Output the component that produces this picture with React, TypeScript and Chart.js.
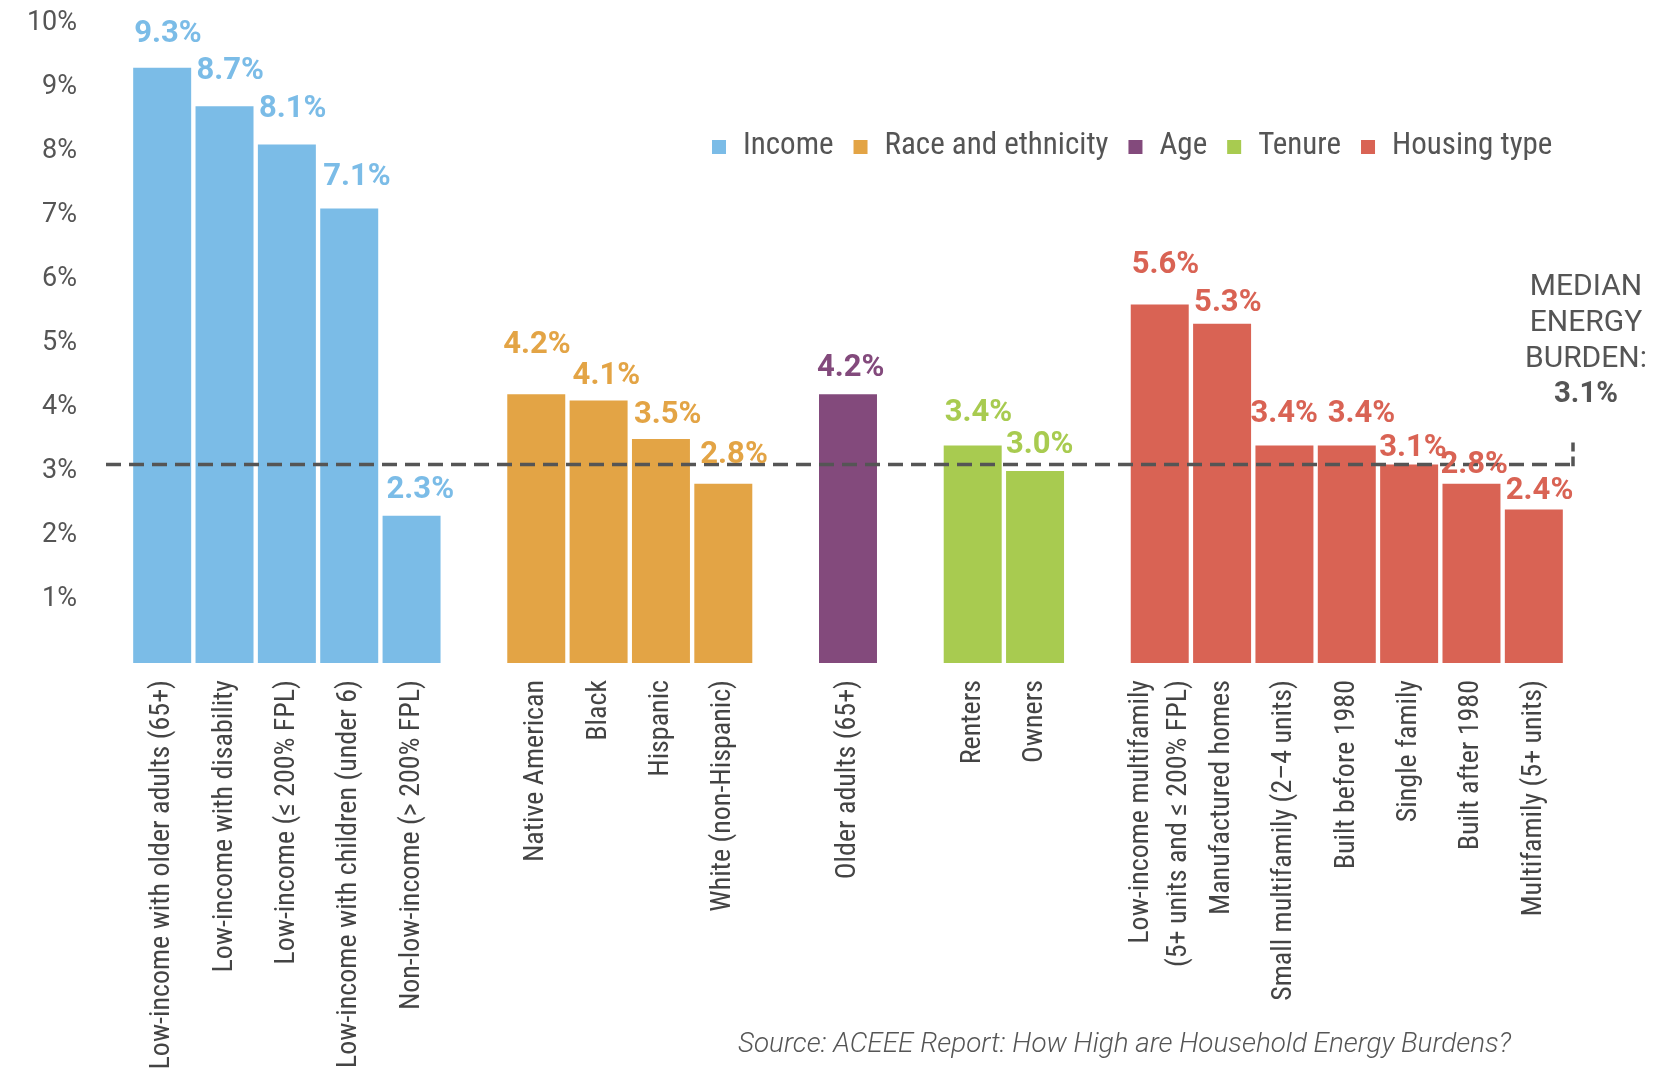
import React, { useEffect, useRef } from 'react';
import { Chart, registerables } from 'chart.js';
Chart.register(...registerables);

const W = 1666;
const H = 1069;

const groupNames = ['Income', 'Race and ethnicity', 'Age', 'Tenure', 'Housing type'];
const groupColors = ['#7BBCE7', '#E3A445', '#834A7C', '#A8CB50', '#D96354'];

const incomeLabels = [
  'Low-income with older adults (65+)',
  'Low-income with disability',
  'Low-income (≤ 200% FPL)',
  'Low-income with children (under 6)',
  'Non-low-income (> 200% FPL)',
];
const incomeValues = [9.3, 8.7, 8.1, 7.1, 2.3];

const raceLabels = ['Native American', 'Black', 'Hispanic', 'White (non-Hispanic)'];
const raceValues = [4.2, 4.1, 3.5, 2.8];

const ageLabels = ['Older adults (65+)'];
const ageValues = [4.2];

const tenureLabels = ['Renters', 'Owners'];
const tenureValues = [3.4, 3.0];

const housingLabels: (string | string[])[] = [
  ['Low-income multifamily', '(5+ units and ≤ 200% FPL)'],
  'Manufactured homes',
  'Small multifamily (2–4 units)',
  'Built before 1980',
  'Single family',
  'Built after 1980',
  'Multifamily (5+ units)',
];
const housingValues = [5.6, 5.3, 3.4, 3.4, 3.1, 2.8, 2.4];

// value-label placement tweaks (px), one per bar in drawing order
const valueLabelDx = [2, 2, 2, 4, 5, -3, 4, 3, 7, -1, 2, 1, 2, 2, -4, 11, 0, -1, 2];
const valueLabelLift = [26, 27, 28, 24, 18, 41, 17, 16, 21, 18, 24, 18, 32, 13, 23, 23, 9, 11, 10];

const yTicks = [1, 2, 3, 4, 5, 6, 7, 8, 9, 10];
const medianBurden = 3.1;
const sourceText = 'Source: ACEEE Report: How High are Household Energy Burdens?';

const groupsLabels = [incomeLabels, raceLabels, ageLabels, tenureLabels, housingLabels];
const groupsValues = [incomeValues, raceValues, ageValues, tenureValues, housingValues];

export default function App() {
  const ref = useRef<HTMLCanvasElement>(null);
  useEffect(() => {
    document.body.style.margin = '0';
    const canvas = ref.current!;
    const c2 = document.createElement('canvas').getContext('2d')!;
    const s = 'Low-income with older adults (65+)';
    c2.font = '26px Roboto';
    const wNorm = c2.measureText(s).width;
    c2.font = 'condensed 26px Roboto';
    const wCond = c2.measureText(s).width;
    const condOK = wCond < wNorm - 10;
    const NARROW = condOK ? 'Roboto' : "'DejaVu Sans Condensed', sans-serif";
    const NW = condOK ? 'condensed' : 'normal';
    const labelSize = condOK ? Math.round((26 * 386) / wCond) : 24;

    const labels: (string | string[])[] = [];
    const values: (number | null)[] = [];
    const colors: string[] = [];
    groupsLabels.forEach((g, gi) => {
      if (gi > 0) {
        labels.push('');
        values.push(null);
        colors.push('rgba(0,0,0,0)');
      }
      g.forEach((l, i) => {
        labels.push(l);
        values.push(groupsValues[gi][i]);
        colors.push(groupColors[gi]);
      });
    });

    const centerMultiline = {
      id: 'centerMultiline',
      beforeDraw(chart: any) {
        const xs = chart.scales.x;
        const items = xs.getLabelItems();
        items.forEach((it: any) => {
          if (Array.isArray(it.label) && it.label.length > 1 && !it._shifted) {
            const tr = it.options.translation;
            it.options.translation = [tr[0] - ((it.label.length - 1) * it.font.lineHeight) / 2, tr[1]];
            it._shifted = true;
          }
        });
      },
    };

    const overlay = {
      id: 'overlay',
      afterDatasetsDraw(chart: any) {
        const c = chart.ctx as CanvasRenderingContext2D;
        const ys = chart.scales.y;
        const area = chart.chartArea;
        const meta = chart.getDatasetMeta(0);
        c.save();
        // median dashed line
        const my = ys.getPixelForValue(medianBurden);
        c.strokeStyle = '#555555';
        c.lineWidth = 3.5;
        c.setLineDash([15, 8]);
        c.beginPath();
        c.moveTo(area.left - 25, my);
        c.lineTo(area.right + 8, my);
        c.stroke();
        c.setLineDash([]);
        c.beginPath();
        c.moveTo(area.right + 8, my + 1.75);
        c.lineTo(area.right + 8, my - 8);
        c.moveTo(area.right + 8, my - 13);
        c.lineTo(area.right + 8, my - 22);
        c.stroke();
        // value labels
        c.textBaseline = 'alphabetic';
        c.textAlign = 'left';
        let k = 0;
        meta.data.forEach((bar: any, i: number) => {
          const v = values[i];
          if (v == null) return;
          c.fillStyle = colors[i];
          c.font = `bold 31px Roboto`;
          const left = bar.x - bar.width / 2;
          c.fillText(`${v.toFixed(1)}%`, left + valueLabelDx[k] - 1, bar.y - valueLabelLift[k], 70);
          k++;
        });
        // median text
        c.fillStyle = '#555555';
        c.textAlign = 'center';
        const mx = area.right + 21;
        c.font = `30px Roboto`;
        c.fillText('MEDIAN', mx, 295, 118);
        c.fillText('ENERGY', mx, 331, 118);
        c.fillText('BURDEN:', mx, 367, 130);
        c.font = `bold 30px Roboto`;
        c.fillText(`${medianBurden.toFixed(1)}%`, mx, 402, 64);
        // legend
        let x = 712;
        const ly = 146;
        c.textAlign = 'left';
        c.textBaseline = 'middle';
        c.font = `${NW} ${labelSize + 3}px ${NARROW}`;
        groupNames.forEach((n, i) => {
          c.fillStyle = groupColors[i];
          c.fillRect(x, ly - 6, 14, 14);
          x += 14 + 17;
          c.fillStyle = '#555555';
          c.fillText(n, x, ly);
          x += c.measureText(n).width + 20;
        });
        // source
        c.font = `italic 300 28px Roboto`;
        c.textBaseline = 'alphabetic';
        c.fillStyle = '#555555';
        c.fillText(sourceText, 738, 1052, 773);
        c.restore();
      },
    };

    const chart = new Chart(canvas, {
      type: 'bar',
      data: {
        labels,
        datasets: [
          {
            data: values,
            backgroundColor: colors,
            borderWidth: 0,
            categoryPercentage: 1,
            barPercentage: 0.93,
          },
        ],
      },
      options: {
        responsive: false,
        animation: false,
        layout: { padding: { left: 0, top: 23, right: 101, bottom: 0 } },
        plugins: { legend: { display: false }, tooltip: { enabled: false } },
        scales: {
          x: {
            type: 'category',
            offset: true,
            grid: { display: false, drawTicks: false, tickLength: 0 },
            border: { display: false },
            ticks: {
              autoSkip: false,
              maxRotation: 90,
              minRotation: 90,
              padding: 17,
              color: '#444444',
              font: { family: NARROW, size: labelSize, weight: NW as any, lineHeight: 1.35 },
            },
            afterFit: (sc: any) => {
              sc.height = 406;
              sc.paddingLeft = 0;
              sc.paddingRight = 0;
            },
          },
          y: {
            min: 0,
            max: 10,
            grid: { display: false, drawTicks: false, tickLength: 0 },
            border: { display: false },
            afterBuildTicks: (sc: any) => {
              sc.ticks = yTicks.map((v) => ({ value: v }));
            },
            ticks: {
              padding: 54,
              color: '#555555',
              font: { family: 'Roboto', size: 27 },
              callback: (v: any) => `${v}%`,
            },
            afterFit: (sc: any) => {
              sc.width = 131;
              sc.paddingTop = 0;
              sc.paddingBottom = 0;
            },
          },
        },
      },
      plugins: [centerMultiline, overlay],
    });
    return () => chart.destroy();
  }, []);
  return (
    <div style={{ width: W, height: H, position: 'relative', background: '#fff' }}>
      <canvas ref={ref} width={W} height={H} style={{ width: W, height: H, display: 'block' }} />
    </div>
  );
}
